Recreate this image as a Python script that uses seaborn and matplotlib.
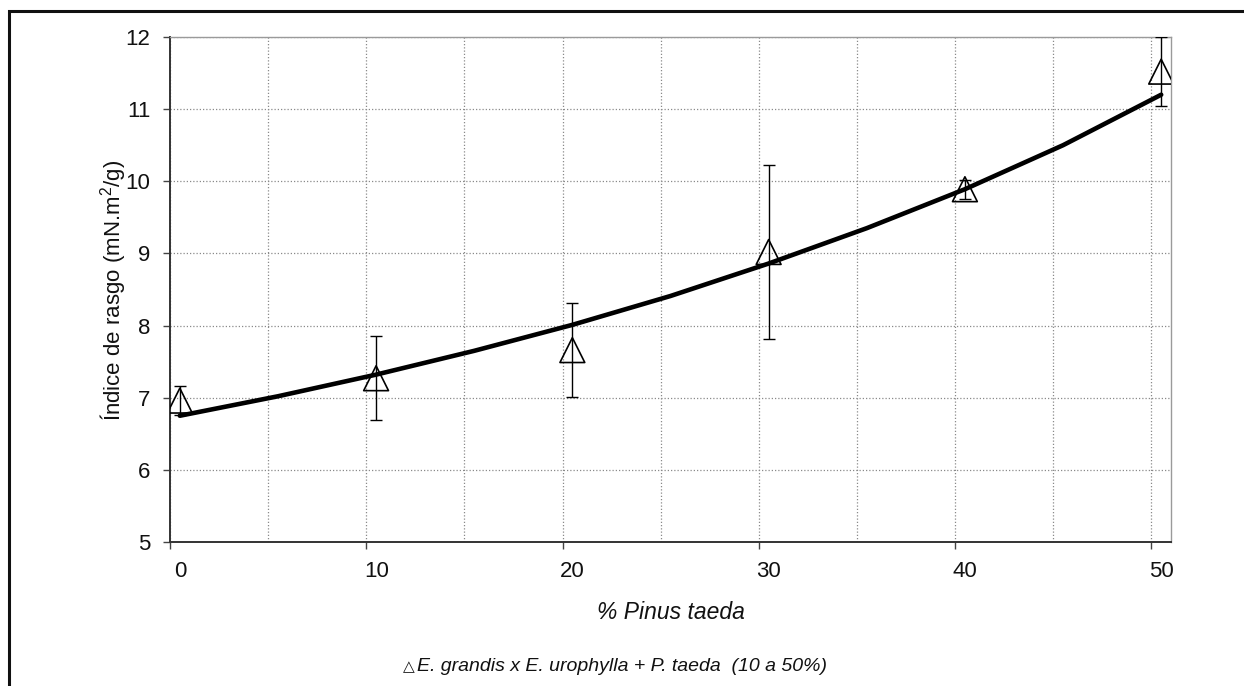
import numpy as np
import pandas as pd
import matplotlib
matplotlib.use("Agg")
import matplotlib.pyplot as plt
import matplotlib.transforms as mtransforms
from matplotlib.patches import Rectangle
import seaborn as sns

# ---- data ----
pct_pinus = [0, 10, 20, 30, 40, 50]
indice_rasgo = [6.96, 7.27, 7.66, 9.02, 9.89, 11.52]
desvio = [0.20, 0.58, 0.65, 1.20, 0.13, 0.48]

trend_x = [0, 5, 10, 15, 20, 25, 30, 35, 40, 45, 50]
trend_y = [6.75, 7.02, 7.32, 7.65, 8.01, 8.41, 8.86, 9.35, 9.89, 10.50, 11.20]

x_ticks = [0, 10, 20, 30, 40, 50]
y_ticks = [5, 6, 7, 8, 9, 10, 11, 12]

xlabel = "% Pinus taeda"
ylabel = "Índice de rasgo (mN.m$^2$/g)"
caption = "E. grandis x E. urophylla + P. taeda  (10 a 50%)"

# ---- style ----
sns.set_style("white")
plt.rcParams["font.family"] = ["Liberation Sans", "DejaVu Sans"]
plt.rcParams["mathtext.default"] = "regular"

X_OFF = 0.5  # markers drawn slightly right of the nominal category value

fig = plt.figure(figsize=(12.44, 6.86), dpi=100)
ax = fig.add_axes([170 / 1244, 1 - 542 / 686, 1001 / 1244, 505 / 686])

df = pd.DataFrame({"x": np.array(pct_pinus) + X_OFF, "y": indice_rasgo, "e": desvio})
tdf = pd.DataFrame({"x": np.array(trend_x) + X_OFF, "y": trend_y})

ax.errorbar(df["x"], df["y"], yerr=df["e"], fmt="none", ecolor="black",
            elinewidth=1.0, capsize=4, capthick=1.0, zorder=3)
sns.scatterplot(data=df, x="x", y="y", ax=ax, marker="^", s=320,
                facecolor="none", edgecolor="black", linewidth=1.2, zorder=4)
sns.lineplot(data=tdf, x="x", y="y", ax=ax, color="black", lw=3.3, zorder=5)

ax.set_xlim(0, 51)
ax.set_ylim(5, 12)
ax.set_xticks(x_ticks)
ax.set_xticks([5, 15, 25, 35, 45], minor=True)
ax.set_yticks(y_ticks)
ax.set_xticklabels([str(v) for v in x_ticks])
ax.set_yticklabels([str(v) for v in y_ticks])
ax.set_xlabel("")
ax.set_ylabel("")

gkw = dict(color="#8a8a8a", linestyle=(0, (1, 1.6)), linewidth=0.9)
ax.grid(True, which="both", axis="x", **gkw)
ax.grid(True, which="major", axis="y", **gkw)
ax.set_axisbelow(True)

ax.tick_params(axis="both", which="both", direction="out", color="#444444",
               width=1.0, labelsize=16, labelcolor="#111111")
ax.tick_params(axis="x", which="both", length=5, pad=9)
ax.tick_params(axis="y", length=5, pad=9)
ax.tick_params(left=True, bottom=True)
offset = mtransforms.ScaledTranslation(0.10, 0, fig.dpi_scale_trans)
for lab in ax.get_xticklabels():
    lab.set_transform(lab.get_transform() + offset)

for side in ["left", "bottom"]:
    ax.spines[side].set_color("#333333")
    ax.spines[side].set_linewidth(1.4)
for side in ["top", "right"]:
    ax.spines[side].set_visible(True)
    ax.spines[side].set_color("#9a9a9a")
    ax.spines[side].set_linewidth(1.0)

fig.text(671 / 1244, 1 - 619 / 686, xlabel, ha="center", va="baseline",
         fontsize=16.5, style="italic", color="#111111")
fig.text(113 / 1244, 1 - 290 / 686, ylabel, ha="center", va="center",
         rotation=90, fontsize=16, color="#111111")
fig.text(403 / 1244, 1 - 671 / 686, "\u25b3", ha="left", va="baseline",
         fontsize=11, color="#111111", family=["DejaVu Sans"])
fig.text(417 / 1244, 1 - 671 / 686, caption, ha="left", va="baseline",
         fontsize=14, style="italic", color="#111111")

fig.add_artist(Rectangle((8.5 / 1244, -0.5), 2.0, 0.5 + 1 - 11.5 / 686,
                         transform=fig.transFigure, fill=False,
                         edgecolor="#111111", linewidth=2.2, clip_on=False))

fig.savefig("out.png", dpi=100, facecolor="white")
